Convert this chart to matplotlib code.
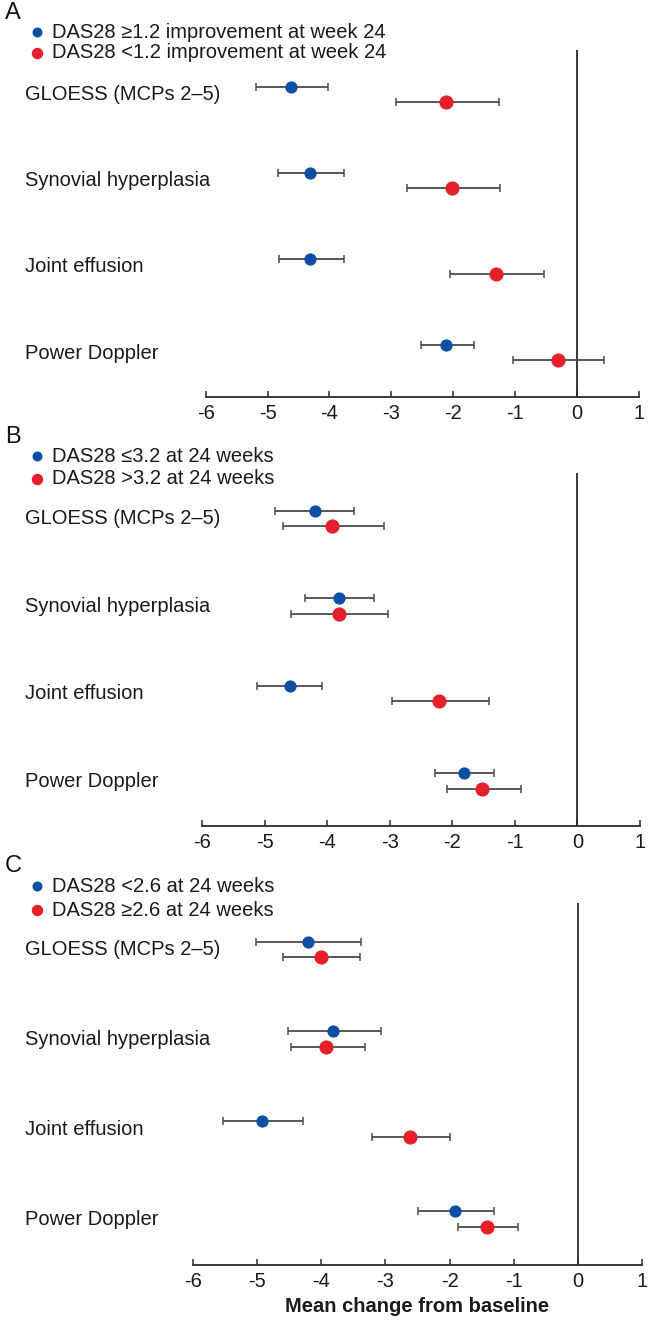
import matplotlib
matplotlib.use("Agg")
import matplotlib.pyplot as plt
import matplotlib.transforms as mtransforms
from matplotlib.lines import Line2D
import numpy as np

plt.rcParams['font.family'] = ['Liberation Sans', 'DejaVu Sans']

categories = ["GLOESS (MCPs 2–5)", "Synovial hyperplasia", "Joint effusion", "Power Doppler"]

# Panel A
a_labels = ["DAS28 ≥1.2 improvement at week 24", "DAS28 <1.2 improvement at week 24"]
a_blue_mean = [-4.62, -4.32, -4.32, -2.11]
a_blue_low = [-5.18, -4.83, -4.82, -2.52]
a_blue_high = [-4.02, -3.76, -3.77, -1.67]
a_red_mean = [-2.11, -2.02, -1.31, -0.31]
a_red_low = [-2.93, -2.74, -2.06, -1.03]
a_red_high = [-1.26, -1.24, -0.53, 0.43]

# Panel B
b_labels = ["DAS28 ≤3.2 at 24 weeks", "DAS28 >3.2 at 24 weeks"]
b_blue_mean = [-4.20, -3.81, -4.59, -1.82]
b_blue_low = [-4.83, -4.36, -5.12, -2.28]
b_blue_high = [-3.57, -3.25, -4.08, -1.33]
b_red_mean = [-3.92, -3.81, -2.21, -1.52]
b_red_low = [-4.71, -4.58, -2.97, -2.09]
b_red_high = [-3.09, -3.02, -1.42, -0.90]

# Panel C
c_labels = ["DAS28 <2.6 at 24 weeks", "DAS28 ≥2.6 at 24 weeks"]
c_blue_mean = [-4.21, -3.81, -4.92, -1.92]
c_blue_low = [-5.02, -4.52, -5.53, -2.49]
c_blue_high = [-3.38, -3.07, -4.28, -1.30]
c_red_mean = [-4.01, -3.93, -2.61, -1.41]
c_red_low = [-4.60, -4.47, -3.21, -1.87]
c_red_high = [-3.40, -3.32, -1.99, -0.93]

xticks = [-6, -5, -4, -3, -2, -1, 0, 1]
xlabel = "Mean change from baseline"

BLUE = "#0b4ea2"
RED = "#e5202a"
BAR = "#4a4a4a"
AX = "#2a2a2a"
TXT = "#1a1a1a"
FS = 14.5

W, H = 663, 1322
fig = plt.figure(figsize=(W / 100, H / 100), dpi=100)

panels = [
    ("A", a_labels, (a_blue_mean, a_blue_low, a_blue_high), (a_red_mean, a_red_low, a_red_high),
     (205.7, 639, 50, 397), 32, 21, 13),
    ("B", b_labels, (b_blue_mean, b_blue_low, b_blue_high), (b_red_mean, b_red_low, b_red_high),
     (202, 640, 473, 826), 456, 23, 437),
    ("C", c_labels, (c_blue_mean, c_blue_low, c_blue_high), (c_red_mean, c_red_low, c_red_high),
     (193, 642, 903, 1265), 886, 24, 866),
]

for idx, (letter, labels, blue, red, box, leg_y, leg_dy, let_y) in enumerate(panels):
    x0, x1, ytop, ybot = box
    ax = fig.add_axes([x0 / W, 1 - ybot / H, (x1 - x0) / W, (ybot - ytop) / H])
    ax.set_xlim(-6, 1)
    ax.set_ylim(3.51, -0.52)
    pos = np.arange(len(categories))
    for (mean, low, high), color, off, ms in [(blue, BLUE, -0.09, 7.8), (red, RED, 0.085, 9.2)]:
        mean = np.array(mean)
        xerr = np.vstack([mean - np.array(low), np.array(high) - mean])
        ax.errorbar(mean, pos + off, xerr=xerr, fmt='o', color=color, ecolor=BAR,
                    elinewidth=1.3, capsize=3.2, capthick=1.1, markersize=ms,
                    mec=color, mfc=color, zorder=3)
    ax.axvline(0, color=AX, lw=1.3, zorder=1)
    for s in ["top", "right", "left"]:
        ax.spines[s].set_visible(False)
    ax.spines["bottom"].set_color(AX)
    ax.spines["bottom"].set_linewidth(1.3)
    ax.set_yticks([])
    ax.set_xticks(xticks)
    ax.set_xticklabels([str(t) for t in xticks])
    ax.tick_params(axis='x', direction='in', length=4.5, width=1.1, color=AX,
                   labelsize=FS, pad=5, labelcolor=TXT)
    trans = mtransforms.blended_transform_factory(fig.transFigure, ax.transData)
    for i, cat in enumerate(categories):
        ax.text(25 / W, i, cat, transform=trans, ha='left', va='center', fontsize=FS, color=TXT)
    for j, (lab, color, ms) in enumerate([(labels[0], BLUE, 7.2), (labels[1], RED, 8.2)]):
        yy = 1 - (leg_y + j * leg_dy) / H
        fig.add_artist(Line2D([37 / W], [yy], marker='o', color=color, markersize=ms,
                              markeredgewidth=0, linestyle='none', transform=fig.transFigure))
        fig.text(52 / W, yy, lab, ha='left', va='center', fontsize=FS, color=TXT)
    fig.text(5 / W, 1 - let_y / H, letter, ha='left', va='center', fontsize=17, color="#111111")
    if idx == 2:
        ax.set_xlabel(xlabel, fontsize=FS, fontweight='bold', labelpad=4, color=TXT)

fig.savefig("out.png", dpi=100)
